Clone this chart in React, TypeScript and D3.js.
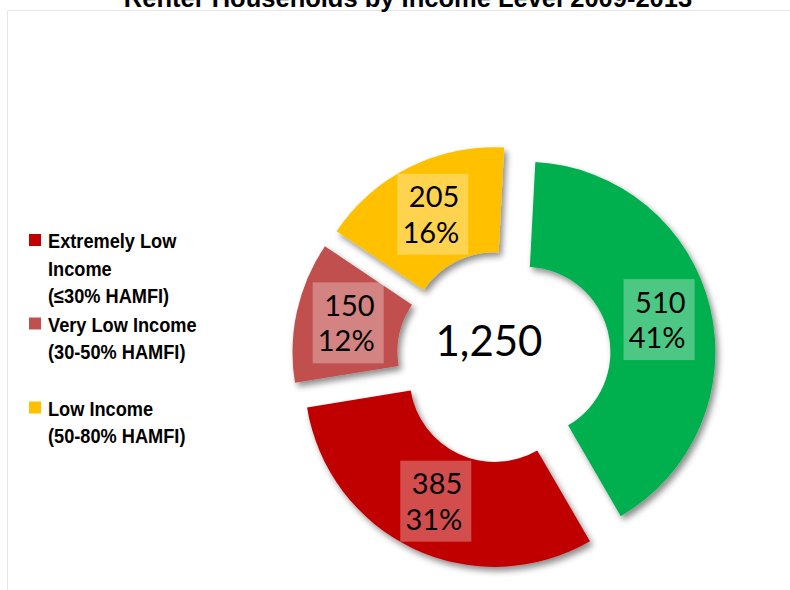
import React from "react";
import * as d3 from "d3";

// ── Data ──────────────────────────────────────────────────────────────────────
const TITLE = "Renter Households by Income Level 2009-2013";
const categories = ["Moderate Income+", "Extremely Low Income", "Very Low Income", "Low Income"];
const households = [510, 385, 150, 205];
const colors = ["#00B050", "#C00000", "#C0504D", "#FFC000"];
const legendLines = [
  null,
  ["Extremely Low", "Income", "(\u226430% HAMFI)"],
  ["Very Low Income", "(30-50% HAMFI)"],
  ["Low Income", "(50-80% HAMFI)"],
];
const TOTAL_LABEL = "1,250";

// ── Layout ────────────────────────────────────────────────────────────────────
const W = 790;
const H = 590;
const CX = 504;
const CY = 357;
const R_OUT = 190;
const R_IN = 85;
const EXPLODE = 22;
const START = (3 * Math.PI) / 180;
const BOX_W = 71;
const BOX_H = 81;
const LBL_FONT = "Lato, Carlito, sans-serif";
const LEG_FONT = "'Liberation Sans', Arial, sans-serif";

export default function App() {
  const total = d3.sum(households);
  const pie = d3
    .pie<number>()
    .sort(null)
    .startAngle(START)
    .endAngle(START + Math.PI * 2)
    .value((d) => d);
  const arcs = pie(households);
  const arc = d3.arc<d3.PieArcDatum<number>>().innerRadius(R_IN).outerRadius(R_OUT);
  const fmtPct = d3.format(".0%");

  // legend rows: each line 27.5px, blank line between 2nd and 3rd entries
  let legendY = 248;
  const legendRows: { i: number; y: number }[] = [];
  legendLines.forEach((lines, i) => {
    if (!lines) return;
    legendRows.push({ i, y: legendY });
    legendY += lines.length * 27.5 + (i === 2 ? 29 : 1);
  });

  return (
    <svg width={W} height={H} style={{ position: "absolute", left: 0, top: 0 }}>
      <defs>
        <filter id="shadow" x="-20%" y="-20%" width="140%" height="140%">
          <feDropShadow dx="3" dy="4" stdDeviation="3" floodColor="#000" floodOpacity="0.45" />
        </filter>
      </defs>
      <rect width={W} height={H} fill="#fff" />
      <path d={`M7.5,${H} V10.5 H${W}`} fill="none" stroke="#e6e6e6" strokeWidth={1} />
      <text
        x={408}
        y={7}
        textAnchor="middle"
        fontFamily="'Liberation Sans', Arial, sans-serif"
        fontWeight="bold"
        fontSize={25.5}
        fill="#000"
      >
        {TITLE}
      </text>

      {arcs.map((a, i) => {
        const mid = (a.startAngle + a.endAngle) / 2;
        const dx = EXPLODE * Math.sin(mid);
        const dy = -EXPLODE * Math.cos(mid);
        return (
          <path
            key={categories[i]}
            d={arc(a) || ""}
            transform={`translate(${CX + dx},${CY + dy})`}
            fill={colors[i]}
            filter="url(#shadow)"
          />
        );
      })}

      {arcs.map((a, i) => {
        const mid = (a.startAngle + a.endAngle) / 2;
        const [lx, ly] = arc.centroid(a);
        const x = CX + EXPLODE * Math.sin(mid) + lx;
        const y = CY - EXPLODE * Math.cos(mid) + ly;
        return (
          <g key={"lbl" + i}>
            <rect
              x={x - BOX_W / 2}
              y={y - BOX_H / 2}
              width={BOX_W}
              height={BOX_H}
              fill="#fff"
              fillOpacity={0.3}
            />
            <text
              x={x + BOX_W / 2 - 9}
              y={y - 7}
              textAnchor="end"
              fontFamily={LBL_FONT}
              fontSize={29}
              fill="#000"
            >
              {households[i]}
            </text>
            <text
              x={x + BOX_W / 2 - 9}
              y={y + 28.5}
              textAnchor="end"
              fontFamily={LBL_FONT}
              fontSize={29}
              fill="#000"
            >
              {fmtPct(households[i] / total)}
            </text>
          </g>
        );
      })}

      <text x={CX - 15} y={356} textAnchor="middle" fontFamily={LBL_FONT} fontSize={42} fill="#000">
        {TOTAL_LABEL}
      </text>

      {legendRows.map(({ i, y }) => (
        <g key={"leg" + i}>
          <rect x={29} y={y - 14} width={12} height={12} fill={colors[i]} />
          {(legendLines[i] as string[]).map((line, k) => (
            <text
              key={k}
              transform={`translate(48,${y + k * 27.5}) scale(0.91,1)`}
              fontFamily={LEG_FONT}
              fontWeight="bold"
              fontSize={20}
              fill="#000"
            >
              {line}
            </text>
          ))}
        </g>
      ))}
    </svg>
  );
}
